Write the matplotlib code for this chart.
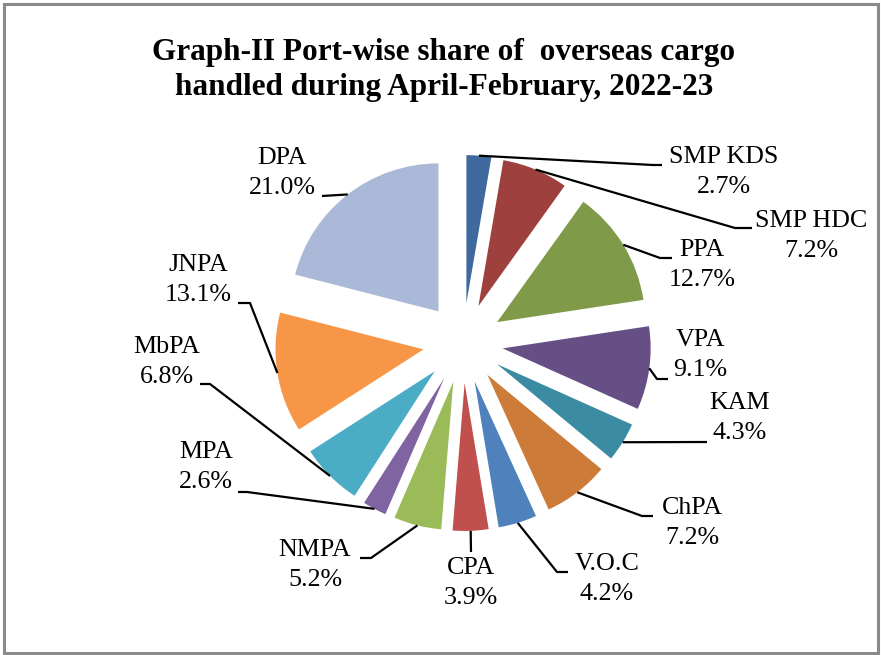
import matplotlib
matplotlib.use("Agg")
import matplotlib.pyplot as plt
from matplotlib.patches import Rectangle
import numpy as np

ports = ["SMP KDS", "SMP HDC", "PPA", "VPA", "KAM", "ChPA", "V.O.C",
         "CPA", "NMPA", "MPA", "MbPA", "JNPA", "DPA"]
shares = [2.7, 7.2, 12.7, 9.1, 4.3, 7.2, 4.2, 3.9, 5.2, 2.6, 6.8, 13.1, 21.0]
colors = ["#40699D", "#9E413E", "#7F9A48", "#664F85", "#3B8CA3", "#CD7B38",
          "#4F81BD", "#C0504D", "#9BBB59", "#8064A2", "#4BACC6", "#F79646",
          "#AAB9D7"]

W, H = 881, 655
# label layout in pixel coords (origin top-left)
label_pos = [(724, 172), (811, 236), (702, 265), (700, 355), (740, 418),
             (692, 523), (607, 579), (471, 583), (315, 565), (206, 467),
             (167, 362), (198, 280), (282, 173)]
leader_bend = [(653, 165), (735, 228), (660, 258), (657, 379), (707, 442),
               (642, 516), (557, 572), (471, 552), (371, 558), (247, 492),
               (210, 384), (250, 303), (322, 196)]
leader_end = [(662, 165), (752, 228), (672, 258), (668, 379), (707, 442),
              (653, 516), (568, 572), (471, 552), (360, 558), (238, 492),
              (200, 384), (238, 303), (322, 196)]

plt.rcParams["font.family"] = ["Liberation Serif", "DejaVu Serif"]

fig = plt.figure(figsize=(W / 100, H / 100), dpi=100)
ax = fig.add_axes([0, 0, 1, 1])

wedges, _ = ax.pie(shares, colors=colors, radius=148, center=(463, H - 343),
                   explode=[40] * len(shares), startangle=90, counterclock=False,
                   wedgeprops=dict(linewidth=0))

ax.set_xlim(0, W)
ax.set_ylim(0, H)
ax.set_aspect("equal")
ax.axis("off")

for w, name, val, (lx, ly), (bx, by), (ex, ey) in zip(
        wedges, ports, shares, label_pos, leader_bend, leader_end):
    t = np.deg2rad((w.theta1 + w.theta2) / 2)
    sx = w.center[0] + w.r * np.cos(t)
    sy = w.center[1] + w.r * np.sin(t)
    ax.plot([sx, bx, ex], [sy, H - by, H - ey], color="black", lw=1.6,
            solid_capstyle="butt")
    ax.text(lx, H - ly, f"{name}\n{val:.1f}%", ha="center", va="center",
            fontsize=18.7, linespacing=1.46)

ax.text(444, H - 70, "Graph-II Port-wise share of  overseas cargo\n"
        "handled during April-February, 2022-23", ha="center", va="center",
        fontsize=22.5, fontweight="bold", linespacing=1.3)

fig.patches.append(Rectangle((3.5, 2.5), W - 7, H - 6, transform=None,
                             fill=False, edgecolor="#8a8a8a", lw=2.2))

fig.savefig("out.png", dpi=100, facecolor="white")
